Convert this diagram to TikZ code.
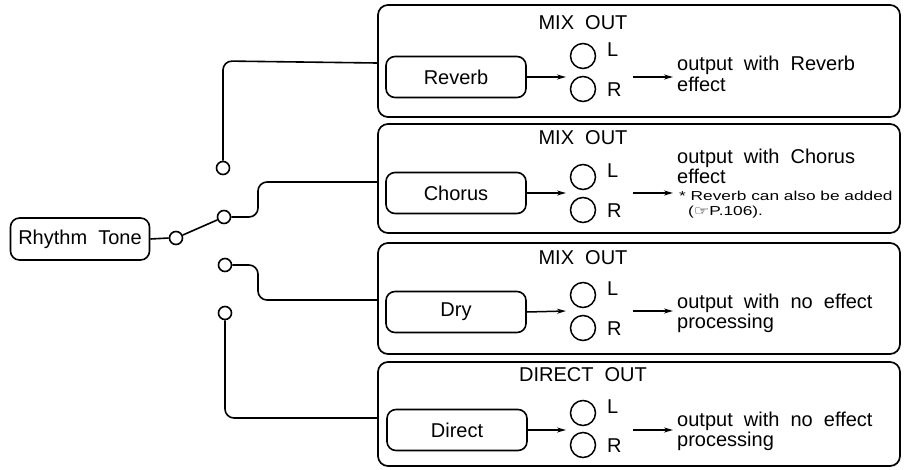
\documentclass[tikz,border=0pt]{standalone}
\usepackage{fontspec}
\setmainfont{Liberation Sans}[WordSpace=2.0]
\newfontfamily\notefont{Liberation Sans}[WordSpace=1.0]
\newfontfamily\symfont{DejaVu Sans}
\usetikzlibrary{arrows.meta}
\begin{document}
\begin{tikzpicture}[x=1pt,y=-1pt,
  every node/.style={font=\fontsize{20}{22}\selectfont},
  outer/.style={draw, line width=1.7pt, rounded corners=10pt, minimum width=522pt, inner sep=0pt},
  effbox/.style={draw, line width=1.6pt, rounded corners=9pt, minimum width=140pt, minimum height=41pt, inner sep=0pt},
  jack/.style={draw, circle, line width=1.5pt, minimum size=25pt, inner sep=0pt},
  contact/.style={draw, circle, line width=1.6pt, minimum size=13pt, inner sep=0pt, fill=white},
  wire/.style={line width=1.6pt, rounded corners=9pt},
  flow/.style={line width=1.5pt, -{Stealth[length=9pt,width=5pt]}},
  lbl/.style={anchor=base west, inner sep=0pt},
  hdr/.style={anchor=base, inner sep=0pt}]
\useasboundingbox (0,0) rectangle (904,469);

% outer boxes
\node[outer, minimum height=112pt] (ob1) at (639,61) {};
\node[outer, minimum height=109pt] (ob2) at (639,178.5) {};
\node[outer, minimum height=111pt] (ob3) at (639,298.5) {};
\node[outer, minimum height=104pt] (ob4) at (639,414) {};

% effect boxes
\node[effbox] (ib1) at (456,77) {Reverb};
\node[effbox] (ib2) at (456,193) {Chorus};
\node[effbox] (ib3) at (456,312) {Dry};
\node[effbox] (ib4) at (457,430) {Direct};

% headers
\node[hdr] (h1) at (583,29) {MIX OUT};
\node[hdr] (h2) at (583,144) {MIX OUT};
\node[hdr] (h3) at (583,264) {MIX OUT};
\node[hdr] (h4) at (583,381) {DIRECT OUT};

% jacks
\node[jack] (l1) at (583,56) {};
\node[jack] (r1) at (583,89) {};
\node[jack] (l2) at (583,177) {};
\node[jack] (r2) at (583,210) {};
\node[jack] (l3) at (583,295) {};
\node[jack] (r3) at (583,328) {};
\node[jack] (l4) at (583,413) {};
\node[jack] (r4) at (583,445) {};
\node[lbl] (ll1) at (607,56) {L};
\node[lbl] (rl1) at (607,96) {R};
\node[lbl] (ll2) at (607,177) {L};
\node[lbl] (rl2) at (607,217) {R};
\node[lbl] (ll3) at (607,295) {L};
\node[lbl] (rl3) at (607,335) {R};
\node[lbl] (ll4) at (607,413) {L};
\node[lbl] (rl4) at (607,452) {R};

% arrow targets
\coordinate (a1) at (566,77);
\coordinate (a2) at (566,193);
\coordinate (a3) at (566,311);
\coordinate (a4) at (566,430);
\coordinate (o1s) at (633,77);  \coordinate (o1e) at (673,77);
\coordinate (o2s) at (633,193); \coordinate (o2e) at (673,193);
\coordinate (o3s) at (633,311); \coordinate (o3e) at (673,311);
\coordinate (o4s) at (633,430); \coordinate (o4e) at (673,430);
\draw[flow] (ib1.east) -- (a1);
\draw[flow] (ib2.east) -- (a2);
\draw[flow] (ib3.east) -- (a3);
\draw[flow] (ib4.east) -- (a4);
\draw[flow] (o1s) -- (o1e);
\draw[flow] (o2s) -- (o2e);
\draw[flow] (o3s) -- (o3e);
\draw[flow] (o4s) -- (o4e);

% output texts
\node[lbl] (t1a) at (677,70) {output with Reverb};
\node[lbl] (t1b) at (677,91) {effect};
\node[lbl] (t2a) at (677,163) {output with Chorus};
\node[lbl] (t2b) at (677,183) {effect};
\node[lbl, font=\notefont\fontsize{13}{13}\selectfont] (t2c) at (679,200) {\scalebox{1.33}[1]{* Reverb can also be added}};
\node[lbl, font=\notefont\fontsize{13}{13}\selectfont] (t2d) at (688,215) {\scalebox{1.33}[1]{({\symfont\char"261E}P.106).}};
\node[lbl] (t3a) at (677,308) {output with no effect};
\node[lbl] (t3b) at (677,328) {processing};
\node[lbl] (t4a) at (677,426) {output with no effect};
\node[lbl] (t4b) at (677,446) {processing};

% source and switch
\node[effbox, minimum width=139pt, minimum height=42pt] (rt) at (80,239) {Rhythm Tone};
\node[contact] (piv) at (176,238) {};
\node[contact] (c1) at (223,168) {};
\node[contact] (c2) at (224,217) {};
\node[contact] (c3) at (225,265) {};
\node[contact] (c4) at (225,313) {};

\draw[wire] (rt.east) -- (piv.west);
\draw[wire] (piv) -- (c2);
\draw[wire] (c1.north) -- (c1.north |- ob1.west) -- ([yshift=-2pt]ob1.west);
\draw[wire] (c2.east) -- (258,217) -- (258,182) -- ([yshift=-3.5pt]ob2.west);
\draw[wire] (c3.east) -- (258,265) -- (258,300) -- ([yshift=-1.5pt]ob3.west);
\draw[wire] (c4.south) -- (225,418) -- ([yshift=-4pt]ob4.west);
\end{tikzpicture}
\end{document}
